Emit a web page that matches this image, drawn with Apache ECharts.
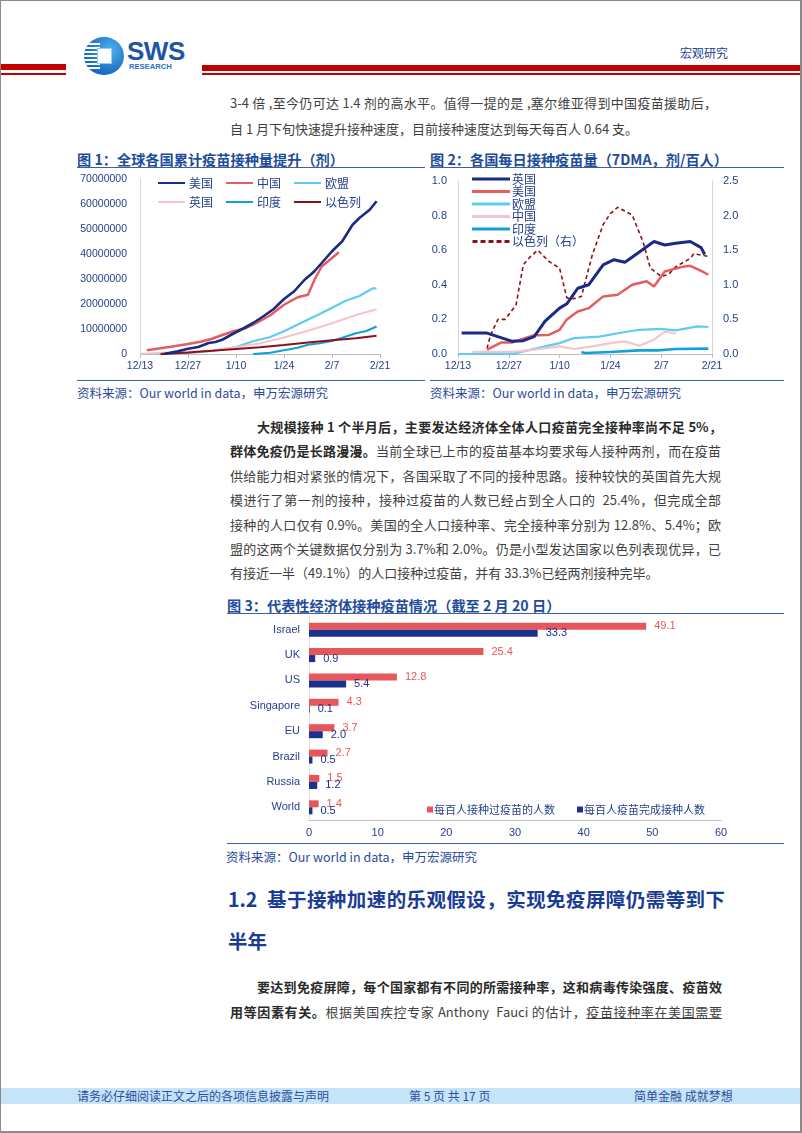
<!DOCTYPE html>
<html><head><meta charset="utf-8">
<script src="https://cdn.jsdelivr.net/npm/echarts@6/dist/echarts.min.js"></script>
<style>
html,body{margin:0;padding:0;background:#fff;}
body{width:802px;height:1133px;position:relative;overflow:hidden;font-family:"Noto Sans CJK SC","Noto Sans",sans-serif;}
.a{position:absolute;white-space:nowrap;}
.ln{position:absolute;height:22px;line-height:22px;font-size:13px;color:#3f3f3f;text-align:justify;text-align-last:justify;white-space:normal;overflow:visible;}
.ln b{color:#2a2a2a;font-weight:700;}
.ttl{position:absolute;white-space:nowrap;font-size:14.2px;font-weight:700;color:#1E4C9A;line-height:18px;}
.src{position:absolute;white-space:nowrap;font-size:12.5px;color:#2C4B9A;line-height:16px;}
.hr{position:absolute;height:1px;background:#3E5FA8;}
.chart{position:absolute;}
</style>
</head>
<body>
<div class="a" style="left:0;top:0;width:799px;height:1130px;border-left:1px solid #8a8a8a;border-top:1px solid #8a8a8a;border-right:2px solid #8a8a8a;border-bottom:2px solid #8a8a8a;"></div>

<!-- header -->
<div class="a" style="left:1px;top:64px;width:65px;height:6px;background:#C00000;"></div>
<div class="a" style="left:1px;top:73px;width:65px;height:2px;background:#C00000;"></div>
<div class="a" style="left:202px;top:65px;width:598px;height:6px;background:#C00000;"></div>
<div class="a" style="left:202px;top:73px;width:598px;height:2px;background:#C00000;"></div>
<div class="a" style="left:84px;top:37px;width:40px;height:38px;border-radius:50%;overflow:hidden;background:radial-gradient(circle at 65% 35%,#4FB3F0,#1565C0 70%);">
  <div class="a" style="left:0;top:6px;width:16px;height:26px;background:repeating-linear-gradient(#fff 0 2px,transparent 2px 4px);"></div>
  <div class="a" style="left:13px;top:11px;width:13px;height:14px;background:#fff;border:1px solid #9cc9ee;"></div>
</div>
<div class="a" style="left:127px;top:36px;font-family:'Liberation Sans',Arial,sans-serif;font-weight:700;font-size:26px;color:#1D55A5;letter-spacing:-0.5px;">SWS</div>
<div class="a" style="left:129px;top:62px;font-family:'Liberation Sans',Arial,sans-serif;font-weight:700;font-size:7.6px;color:#2A72C6;">RESEARCH</div>
<div class="a" style="left:680px;top:44px;font-size:12px;color:#1F3E96;">宏观研究</div>

<!-- paragraph 1 -->
<div class="ln" style="left:230px;top:92px;width:487px;">3-4 倍 ,至今仍可达 1.4 剂的高水平。值得一提的是 ,塞尔维亚得到中国疫苗援助后，</div>
<div class="a" style="left:230px;top:118px;height:22px;line-height:22px;font-size:13px;color:#3f3f3f;">自 1 月下旬快速提升接种速度，目前接种速度达到每天每百人 0.64 支。</div>

<!-- fig titles -->
<div class="ttl" style="left:77px;top:150px;">图 1：全球各国累计疫苗接种量提升（剂）</div>
<div class="ttl" style="left:430px;top:150px;">图 2：各国每日接种疫苗量（7DMA，剂/百人）</div>
<div class="hr" style="left:77px;top:167px;width:348px;"></div>
<div class="hr" style="left:430px;top:167px;width:354px;"></div>
<div class="hr" style="left:77px;top:380px;width:348px;"></div>
<div class="hr" style="left:430px;top:380px;width:354px;"></div>
<div class="src" style="left:77px;top:385px;">资料来源：Our world in data，申万宏源研究</div>
<div class="src" style="left:430px;top:385px;">资料来源：Our world in data，申万宏源研究</div>

<div id="c1" class="chart" style="left:70px;top:170px;width:360px;height:208px;"></div>
<div id="c2" class="chart" style="left:425px;top:170px;width:345px;height:208px;"></div>

<!-- paragraph 2 -->
<div class="ln" style="left:257px;top:416px;width:465px;"><b>大规模接种 1 个半月后，主要发达经济体全体人口疫苗完全接种率尚不足 5%，</b></div>
<div class="ln" style="left:230px;top:440px;width:491px;"><b>群体免疫仍是长路漫漫。</b>当前全球已上市的疫苗基本均要求每人接种两剂，而在疫苗</div>
<div class="ln" style="left:230px;top:465px;width:491px;">供给能力相对紧张的情况下，各国采取了不同的接种思路。接种较快的英国首先大规</div>
<div class="ln" style="left:230px;top:489px;width:491px;">模进行了第一剂的接种，接种过疫苗的人数已经占到全人口的&nbsp; 25.4%，但完成全部</div>
<div class="ln" style="left:230px;top:514px;width:491px;">接种的人口仅有 0.9%。美国的全人口接种率、完全接种率分别为 12.8%、5.4%；欧</div>
<div class="ln" style="left:230px;top:538px;width:491px;">盟的这两个关键数据仅分别为 3.7%和 2.0%。仍是小型发达国家以色列表现优异，已</div>
<div class="a" style="left:230px;top:562px;height:22px;line-height:22px;font-size:13px;color:#3f3f3f;">有接近一半（49.1%）的人口接种过疫苗，并有 33.3%已经两剂接种完毕。</div>

<!-- fig 3 -->
<div class="ttl" style="left:227px;top:596px;">图 3：代表性经济体接种疫苗情况（截至 2 月 20 日）</div>
<div class="hr" style="left:227px;top:613px;width:557px;"></div>
<div id="c3" class="chart" style="left:220px;top:615px;width:560px;height:228px;"></div>
<div class="hr" style="left:227px;top:843px;width:557px;"></div>
<div class="src" style="left:226px;top:849px;">资料来源：Our world in data，申万宏源研究</div>

<!-- section heading -->
<div class="ln" style="left:228px;top:883px;width:497px;height:32px;line-height:32px;font-size:19.5px;font-weight:700;color:#1A3C94;">1.2&nbsp; 基于接种加速的乐观假设，实现免疫屏障仍需等到下</div>
<div class="a" style="left:228px;top:925px;height:32px;line-height:32px;font-size:19.5px;font-weight:700;color:#1A3C94;">半年</div>

<!-- paragraph 3 -->
<div class="ln" style="left:257px;top:976px;width:465px;"><b>要达到免疫屏障，每个国家都有不同的所需接种率，这和病毒传染强度、疫苗效</b></div>
<div class="ln" style="left:230px;top:1001px;width:492px;"><b>用等因素有关。</b>根据美国疾控专家 Anthony&nbsp; Fauci 的估计，<span style="text-decoration:underline;">疫苗接种率在美国需要</span></div>

<!-- footer -->
<div class="a" style="left:1px;top:1088px;width:799px;height:16px;background:#C6E4F7;"></div>
<div class="a" style="left:77px;top:1088px;line-height:16px;font-size:12px;color:#2B4EA0;">请务必仔细阅读正文之后的各项信息披露与声明</div>
<div class="a" style="left:409px;top:1088px;line-height:16px;font-size:12px;color:#2B4EA0;">第 5 页 共 17 页</div>
<div class="a" style="left:634px;top:1088px;line-height:16px;font-size:12px;color:#2B4EA0;">简单金融 成就梦想</div>

<script>
// ---------- shared ----------
const xTicks = ['12/13','12/27','1/10','1/24','2/7','2/21'];
function toDay(s){const p=s.split('/').map(Number);return p[0]===12?p[1]-13:(p[0]===1?p[1]+18:p[1]+49);}
function pts(dates, vals){return dates.map((d,i)=>[toDay(d), vals[i]]);}

// ---------- chart 1: cumulative doses ----------
const c1Names = ['美国','中国','欧盟','英国','印度','以色列'];
const c1UsDates = ['12/20','12/24','12/27','12/30','1/2','1/4','1/6','1/9','1/12','1/15','1/18','1/21','1/24','1/27','1/30','2/1','2/2','2/4','2/7','2/10','2/13','2/15','2/18','2/20'];
const c1UsVals  = [0,1070000,2100000,2800000,4400000,4800000,5700000,8000000,10100000,12400000,15100000,18000000,22000000,25100000,29700000,32000000,33300000,36400000,41100000,45100000,51700000,54400000,57700000,61100000];
const c1CnDates = ['12/15','12/22','12/27','12/31','1/3','1/6','1/9','1/13','1/16','1/20','1/24','1/28','1/31','2/2','2/4','2/7','2/9'];
const c1CnVals  = [1500000,2900000,4000000,5000000,6100000,7600000,9000000,10400000,12400000,15500000,19700000,22700000,23700000,30000000,35000000,38400000,40700000];
const c1EuDates = ['12/13','12/20','12/27','1/3','1/10','1/15','1/20','1/24','1/30','2/4','2/11','2/15','2/17','2/19','2/20'];
const c1EuVals  = [0,100000,400000,1200000,2800000,5100000,6800000,9100000,13100000,16400000,21300000,23200000,24800000,26300000,26200000];
const c1UkDates = ['12/13','12/20','12/27','1/3','1/10','1/17','1/24','1/31','2/7','2/14','2/20'];
const c1UkVals  = [100000,500000,900000,1400000,2700000,4300000,6600000,9300000,12300000,15600000,17900000];
const c1InDates = ['1/15','1/20','1/24','1/28','1/31','2/3','2/7','2/10','2/14','2/17','2/20'];
const c1InVals  = [0,500000,1500000,2500000,3700000,4200000,5200000,6500000,8300000,9200000,11000000];
const c1IlDates = ['12/19','12/27','1/3','1/10','1/17','1/24','1/31','2/7','2/14','2/20'];
const c1IlVals  = [0,600000,1300000,2000000,2700000,3600000,4600000,5500000,6300000,7300000];

// ---------- chart 2: daily doses per hundred (7DMA) ----------
const c2Names = ['英国','美国','欧盟','中国','印度','以色列（右）'];
const c2UkDates = ['12/14','12/21','12/28','12/31','1/3','1/6','1/10','1/12','1/15','1/18','1/22','1/25','1/28','2/1','2/5','2/8','2/11','2/15','2/18','2/19'];
const c2UkVals  = [0.121,0.121,0.073,0.077,0.10,0.19,0.265,0.29,0.38,0.40,0.515,0.545,0.53,0.59,0.65,0.63,0.64,0.65,0.615,0.575];
const c2UsDates = ['12/21','12/25','12/28','12/31','1/3','1/7','1/10','1/12','1/15','1/18','1/22','1/26','1/30','2/3','2/5','2/8','2/13','2/15','2/18','2/20'];
const c2UsVals  = [0.025,0.067,0.067,0.088,0.108,0.11,0.14,0.20,0.246,0.265,0.333,0.342,0.40,0.42,0.39,0.477,0.505,0.51,0.48,0.458];
const c2EuDates = ['12/13','12/28','1/3','1/10','1/14','1/21','1/26','2/1','2/7','2/11','2/17','2/20'];
const c2EuVals  = [0,0,0.03,0.063,0.092,0.10,0.12,0.14,0.145,0.137,0.16,0.156];
const c2CnDates = ['12/17','12/28','1/3','1/10','1/14','1/19','1/24','1/28','2/1','2/5','2/8','2/11'];
const c2CnVals  = [0.012,0.012,0.025,0.044,0.029,0.044,0.063,0.073,0.048,0.083,0.13,0.117];
const c2InDates = ['1/16','1/17','1/24','2/1','2/6','2/11','2/20'];
const c2InVals  = [0.012,0.006,0.012,0.021,0.021,0.029,0.031];
const c2IlDates = ['12/21','12/22','12/24','12/26','12/29','12/31','1/2','1/4','1/7','1/10','1/12','1/14','1/16','1/19','1/22','1/24','1/26','1/30','2/2','2/4','2/7','2/9','2/11','2/15','2/16','2/20'];
const c2IlVals  = [0.08,0.28,0.5,0.5,0.71,1.29,1.41,1.5,1.34,1.24,0.81,0.8,0.83,1.43,1.87,2.03,2.12,2.01,1.62,1.24,1.12,1.15,1.26,1.38,1.45,1.41];

// ---------- chart 3: vaccination status ----------
const c3Cats = ['Israel','UK','US','Singapore','EU','Brazil','Russia','World'];
const c3First = [49.1,25.4,12.8,4.3,3.7,2.7,1.5,1.4];
const c3Full  = [33.3,0.9,5.4,0.1,2.0,0.5,1.2,0.5];
const c3Names = ['每百人接种过疫苗的人数','每百人疫苗完成接种人数'];

const NAVY='#1B2A84', RED='#E35D5F', CYAN='#5DCBF2', PINK='#F6C4CB', BLUE='#12A0DA', DRED='#8E1116';
const AXC='#26408B', LINEC='#BFBFBF';
const LAT="'Liberation Sans', Arial, 'Noto Sans CJK SC', sans-serif";
const CJK="'Noto Sans CJK SC', sans-serif";
const SOLID='path://M0,0h40v3h-40z';
const DASH='path://M0,0h5v3h-5z M8,0h5v3h-5z M16,0h5v3h-5z M24,0h5v3h-5z M32,0h5v3h-5z';

function lineS(name,data,color,w,extra){
  return Object.assign({name,type:'line',data,showSymbol:false,symbol:'none',smooth:false,
    lineStyle:{color,width:w},itemStyle:{color},z:3},extra||{});
}

// chart 1
const ch1 = echarts.init(document.getElementById('c1'),null,{renderer:'canvas'});
const leg1 = {left:88,padding:0,icon:SOLID,itemWidth:27,itemHeight:3,itemGap:13,textStyle:{fontSize:12,color:AXC,fontFamily:CJK,padding:[0,0,0,-1]}};
ch1.setOption({
  animation:false,
  textStyle:{fontFamily:LAT},
  grid:{left:70,top:9,width:240,height:175},
  legend:[Object.assign({top:7,data:c1Names.slice(0,3)},leg1),Object.assign({top:26,data:c1Names.slice(3)},leg1)],
  xAxis:{type:'value',min:0,max:70,interval:14,
    axisLine:{show:true,lineStyle:{color:LINEC}},axisTick:{show:true,length:4,lineStyle:{color:LINEC}},
    splitLine:{show:false},axisLabel:{formatter:v=>xTicks[Math.round(v/14)],color:AXC,fontSize:10.5,margin:7}},
  yAxis:{type:'value',min:0,max:70000000,interval:10000000,
    axisLine:{show:true,lineStyle:{color:'#D4D4D4'}},axisTick:{show:false},splitLine:{show:false},
    axisLabel:{color:AXC,fontSize:10.5,margin:13,formatter:v=>String(v)}},
  series:[
    lineS('美国',pts(c1UsDates,c1UsVals),NAVY,2.6,{z:6}),
    lineS('中国',pts(c1CnDates,c1CnVals),RED,2.4,{z:5}),
    lineS('欧盟',pts(c1EuDates,c1EuVals),CYAN,2.2),
    lineS('英国',pts(c1UkDates,c1UkVals),PINK,2.2),
    lineS('印度',pts(c1InDates,c1InVals),BLUE,2.2),
    lineS('以色列',pts(c1IlDates,c1IlVals),DRED,2.2)
  ]
});

// chart 2
const ch2 = echarts.init(document.getElementById('c2'),null,{renderer:'canvas'});
const c2LegData = c2Names.map((n,i)=>({name:n,icon:i===5?DASH:SOLID}));
ch2.setOption({
  animation:false,
  textStyle:{fontFamily:LAT},
  grid:{left:33,top:11,width:254,height:173},
  legend:{orient:'vertical',left:47,top:3,padding:0,itemWidth:38,itemHeight:3,itemGap:0.5,data:c2LegData,
    textStyle:{fontSize:12,color:AXC,fontFamily:CJK,lineHeight:12,padding:[0,0,0,-3]}},
  xAxis:{type:'value',min:0,max:70,interval:14,
    axisLine:{show:true,lineStyle:{color:LINEC}},axisTick:{show:true,length:4,lineStyle:{color:LINEC}},
    splitLine:{show:false},axisLabel:{formatter:v=>xTicks[Math.round(v/14)],color:AXC,fontSize:10.5,margin:7}},
  yAxis:[
    {type:'value',min:0,max:1,interval:0.2,axisLine:{show:true,lineStyle:{color:'#D4D4D4'}},axisTick:{show:false},
      splitLine:{show:false},axisLabel:{color:AXC,fontSize:11,margin:11,formatter:v=>v.toFixed(1)}},
    {type:'value',position:'right',min:0,max:2.5,interval:0.5,axisLine:{show:true,lineStyle:{color:'#D4D4D4'}},axisTick:{show:false},
      splitLine:{show:false},axisLabel:{color:AXC,fontSize:11,margin:11,formatter:v=>v.toFixed(1)}}
  ],
  series:[
    lineS('英国',pts(c2UkDates,c2UkVals),NAVY,3,{z:6}),
    lineS('美国',pts(c2UsDates,c2UsVals),RED,2.5,{z:5}),
    lineS('欧盟',pts(c2EuDates,c2EuVals),CYAN,2.2),
    lineS('中国',pts(c2CnDates,c2CnVals),PINK,2.2),
    lineS('印度',pts(c2InDates,c2InVals),BLUE,2.6),
    lineS('以色列（右）',pts(c2IlDates,c2IlVals),DRED,1.6,{yAxisIndex:1,lineStyle:{color:DRED,width:1.6,type:[4,3]}})
  ]
});

// chart 3
const ch3 = echarts.init(document.getElementById('c3'),null,{renderer:'canvas'});
ch3.setOption({
  animation:false,
  textStyle:{fontFamily:LAT},
  grid:{left:89,top:2,width:412,height:203},
  legend:{left:207,top:189,padding:0,itemWidth:6,itemHeight:6,itemGap:22,icon:'rect',data:c3Names,
    textStyle:{fontSize:11,color:AXC,fontFamily:CJK,padding:[0,0,0,-4]}},
  xAxis:{type:'value',min:0,max:60,interval:10,axisLine:{show:true,lineStyle:{color:LINEC}},axisTick:{show:false},
    splitLine:{show:false},axisLabel:{color:AXC,fontSize:11,margin:7}},
  yAxis:{type:'category',inverse:true,data:c3Cats,axisLine:{show:true,lineStyle:{color:'#E2E2E2'}},axisTick:{show:false},
    axisLabel:{color:AXC,fontSize:11,margin:9}},
  series:[
    {name:c3Names[0],type:'bar',data:c3First,barWidth:7,barGap:'0%',itemStyle:{color:'#E6575B'},
      label:{show:true,position:'right',distance:8,color:'#E6575B',fontSize:11,formatter:p=>p.value.toFixed(1)}},
    {name:c3Names[1],type:'bar',data:c3Full,barWidth:7,barGap:'0%',itemStyle:{color:'#1C318D'},
      label:{show:true,position:'right',distance:8,color:'#1C318D',fontSize:11,formatter:p=>p.value.toFixed(1)}}
  ]
});
</script>
</body></html>
